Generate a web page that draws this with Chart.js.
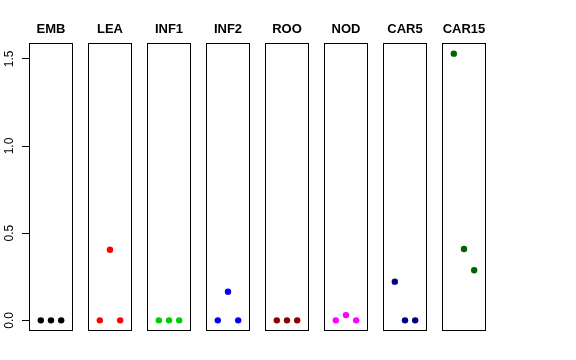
<!DOCTYPE html>
<html>
<head>
<meta charset="utf-8">
<script src="https://cdn.jsdelivr.net/npm/chart.js@4"></script>
<style>
  html, body { margin: 0; padding: 0; background: #fff; }
  #wrap { position: relative; width: 576px; height: 360px; overflow: hidden; }
  .panel { position: absolute; top: 0; }
</style>
</head>
<body>
<div id="wrap"></div>
<script>
const categories = ["EMB", "LEA", "INF1", "INF2", "ROO", "NOD", "CAR5", "CAR15"];
const xPositions = [1, 2, 3];
const emb = [0, 0, 0];
const lea = [0, 0.405, 0];
const inf1 = [0, 0, 0];
const inf2 = [0, 0.164, 0];
const roo = [0, 0, 0];
const nod = [0, 0.03, 0];
const car5 = [0.222, 0, 0];
const car15 = [1.53, 0.409, 0.287];
const yTicks = [0, 0.5, 1.0, 1.5];

const series = [emb, lea, inf1, inf2, roo, nod, car5, car15];
const colors = ["#000000", "#ff0000", "#00cd00", "#0000ff", "#8b0000", "#ff00ff", "#00008b", "#006400"];

const FONT = "'Liberation Sans', Arial, Helvetica, sans-serif";
const Y_MIN = -0.0612, Y_MAX = 1.591;
const PANEL_W = 44, PANEL_H = 331, AXIS_W = 29, GAP = 59;

// R style box round the plot region
const boxPlugin = {
  id: "box",
  afterDraw(chart) {
    const { ctx, chartArea: a } = chart;
    ctx.save();
    ctx.strokeStyle = "#000";
    ctx.lineWidth = 1;
    const l = Math.round(a.left) + 0.5, t = Math.round(a.top) + 0.5;
    const r = Math.round(a.right) - 0.5, b = Math.round(a.bottom) - 0.5;
    ctx.strokeRect(l, t, r - l, b - t);
    ctx.restore();
  },
};

const wrap = document.getElementById("wrap");

categories.forEach((name, i) => {
  const withAxis = i === 0;
  const left = withAxis ? 0 : AXIS_W + i * GAP;
  const width = withAxis ? AXIS_W + PANEL_W : PANEL_W;

  const div = document.createElement("div");
  div.className = "panel";
  div.style.left = left + "px";
  const canvas = document.createElement("canvas");
  canvas.width = width;
  canvas.height = PANEL_H;
  div.appendChild(canvas);
  wrap.appendChild(div);

  new Chart(canvas, {
    type: "scatter",
    data: {
      datasets: [
        {
          data: xPositions.map((x, k) => ({ x, y: series[i][k] })),
          backgroundColor: colors[i],
          borderWidth: 0,
          pointRadius: 3.2,
          pointHoverRadius: 3.2,
        },
      ],
    },
    options: {
      responsive: false,
      animation: false,
      devicePixelRatio: 1,
      layout: { padding: 0, autoPadding: false },
      plugins: {
        legend: { display: false },
        tooltip: { enabled: false },
        title: {
          display: true,
          text: name,
          fullSize: false,
          color: "#000",
          font: { family: FONT, size: 13, weight: "bold", lineHeight: 1.2 },
          padding: { top: 21.7, bottom: 5.7 },
        },
      },
      scales: {
        x: { type: "linear", min: -0.16, max: 4.16, display: false },
        y: {
          min: Y_MIN,
          max: Y_MAX,
          display: withAxis,
          border: { display: true, color: "#000" },
          grid: { drawOnChartArea: false, tickLength: 7, color: "#000" },
          afterBuildTicks: (s) => { s.ticks = yTicks.map((v) => ({ value: v })); },
          afterFit: (s) => {
            if (!withAxis) return;
            s.width = AXIS_W;
            s.paddingTop = 0;
            s.paddingBottom = 0;
          },
          ticks: {
            minRotation: 90,
            maxRotation: 90,
            crossAlign: "center",
            padding: 4,
            color: "#000",
            font: { family: FONT, size: 12 },
            callback: (v) => Number(v).toFixed(1),
          },
        },
      },
    },
    plugins: [boxPlugin],
  });
});
</script>
</body>
</html>
